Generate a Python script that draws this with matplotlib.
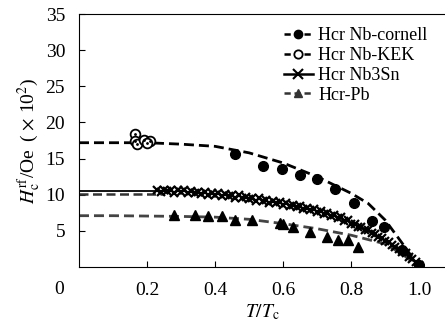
import matplotlib.pyplot as plt
import numpy as np

plt.rcParams['font.family'] = ['Liberation Serif', 'DejaVu Serif']
plt.rcParams['mathtext.fontset'] = 'stix'

# fit curves
t_fit = [0.0, 0.1, 0.2, 0.3, 0.4, 0.5, 0.6, 0.7, 0.8, 0.85, 0.9, 0.95, 1.0]
cornell_fit = [17.2, 17.2, 17.2, 17.0, 16.7, 15.8, 14.4, 12.5, 10.2, 8.8, 6.5, 3.3, 0.0]
pb_fit = [7.1, 7.1, 7.05, 7.0, 6.9, 6.6, 6.0, 5.3, 4.4, 3.8, 3.2, 1.8, 0.0]
sn_flat_t = [0.0, 0.23]
sn_flat = [10.5, 10.5]
sn_dash_t = [0.0, 0.25]
sn_dash = [10.1, 10.1]

# Nb-cornell measured
cornell_t = [0.46, 0.54, 0.596, 0.65, 0.70, 0.753, 0.809, 0.86, 0.897, 0.95, 1.0]
cornell_h = [15.6, 14.0, 13.6, 12.8, 12.2, 10.8, 8.9, 6.4, 5.6, 2.4, 0.3]

# Nb-KEK measured
kek_t = [0.165, 0.165, 0.17, 0.19, 0.21, 0.2]
kek_h = [18.4, 17.4, 17.0, 17.6, 17.4, 17.2]

# Nb3Sn measured (dense band)
sn_t = [0.23, 0.25, 0.27, 0.29, 0.31, 0.33, 0.35, 0.37, 0.39, 0.41, 0.43, 0.45,
        0.47, 0.49, 0.51, 0.53, 0.55, 0.57, 0.59, 0.61, 0.63, 0.65, 0.67, 0.69,
        0.71, 0.73, 0.75, 0.77, 0.79, 0.81, 0.83, 0.85, 0.87, 0.89, 0.91, 0.93,
        0.95, 0.97, 0.99, 1.0,
        0.24, 0.26, 0.28, 0.30, 0.32, 0.34, 0.36, 0.38, 0.40, 0.42, 0.44, 0.46,
        0.48, 0.50, 0.52, 0.54, 0.56, 0.58, 0.60, 0.62, 0.64, 0.66, 0.68, 0.70,
        0.72, 0.74, 0.76, 0.78, 0.80, 0.82, 0.84, 0.86, 0.88, 0.90, 0.92, 0.94,
        0.96, 0.98]
sn_h = [10.6, 10.7, 10.6, 10.6, 10.6, 10.5, 10.4, 10.4, 10.3, 10.2, 10.1, 10.0,
        9.9, 9.7, 9.6, 9.5, 9.3, 9.2, 9.0, 8.8, 8.6, 8.4, 8.2, 8.0,
        7.8, 7.5, 7.2, 6.9, 6.5, 5.9, 5.5, 5.1, 4.6, 4.0, 3.4, 2.8,
        2.1, 1.4, 0.7, 0.3,
        10.4, 10.5, 10.3, 10.4, 10.3, 10.2, 10.1, 10.0, 10.0, 9.8, 9.8, 9.6,
        9.5, 9.4, 9.2, 9.1, 8.9, 8.8, 8.6, 8.4, 8.3, 8.0, 7.9, 7.6,
        7.4, 7.1, 6.8, 6.4, 6.0, 5.6, 5.1, 4.7, 4.2, 3.6, 3.1, 2.5,
        1.9, 1.1]

# Pb measured
pb_t = [0.28, 0.34, 0.38, 0.42, 0.46, 0.51, 0.59, 0.60, 0.63, 0.68, 0.73, 0.76, 0.79, 0.82]
pb_h = [7.2, 7.2, 7.1, 7.0, 6.5, 6.5, 6.1, 6.0, 5.5, 4.9, 4.1, 3.7, 3.7, 2.7]

fig = plt.figure(figsize=[4.45, 3.28], dpi=100)
ax = fig.add_axes([0.1775, 0.186, 0.8225, 0.771])

dash = (0, (3.6, 1.8))
ax.plot(t_fit, cornell_fit, color='black', ls=dash, lw=2.0)
ax.plot(t_fit, pb_fit, color='#444444', ls=dash, lw=2.0)
ax.plot(sn_flat_t, sn_flat, color='black', lw=1.3)
ax.plot(sn_dash_t, sn_dash, color='#333333', ls=dash, lw=1.8)

ax.plot(cornell_t, cornell_h, 'o', color='black', ms=7, ls='none')
ax.plot(kek_t, kek_h, 'o', mfc='white', mec='black', ms=7, mew=1.3, ls='none')
ax.plot(kek_t, kek_h, '.', color='black', ms=2, ls='none')
ax.plot(sn_t, sn_h, 'x', color='black', ms=5.5, mew=1.6, ls='none')
ax.plot(pb_t, pb_h, '^', color='black', ms=6.5, ls='none')

# legend proxies
h1, = ax.plot([], [], color='black', ls=(0, (2.5, 1.5)), lw=1.8, marker='o', ms=6)
h2, = ax.plot([], [], color='black', ls=(0, (2.5, 1.5)), lw=1.8, marker='o', ms=6, mfc='white', mew=1.3)
h3, = ax.plot([], [], color='black', lw=1.8, marker='x', ms=7, mew=1.5)
h4, = ax.plot([], [], color='#333333', ls=(0, (2.5, 1.5)), lw=1.8, marker='^', ms=6)
ax.legend([h1, h2, h3, h4], ['Hcr Nb-cornell', 'Hcr Nb-KEK', 'Hcr Nb3Sn', 'Hcr-Pb'],
          loc='upper left', bbox_to_anchor=(0.53, 0.99), frameon=False, fontsize=13,
          handlelength=1.6, handletextpad=0.3, labelspacing=0.15, borderaxespad=0.2)

ax.set_xlim(0, 1.076)
ax.set_ylim(0, 35)
ax.set_xticks([0.2, 0.4, 0.6, 0.8, 1.0])
ax.set_xticklabels(['0.2', '0.4', '0.6', '0.8', '1.0'])
ax.set_yticks([5, 10, 15, 20, 25, 30, 35])
ax.tick_params(direction='in', labelsize=14, length=4)
ax.tick_params(axis='x', pad=11)
ax.tick_params(axis='y', pad=10)
ax.spines['right'].set_visible(False)
ax.text(-0.055, -0.09, '0', transform=ax.transAxes, fontsize=14, ha='center', va='center')

ax.set_xlabel('$T/T_{\\rm c}$', fontsize=14, labelpad=2)
ax.set_ylabel('$H_{\\rm c}^{\\rm rf}$/Oe$\\;\\;$( $\\times$ 10$^2$)', fontsize=14, labelpad=2)

fig.savefig('out.png', dpi=100)
